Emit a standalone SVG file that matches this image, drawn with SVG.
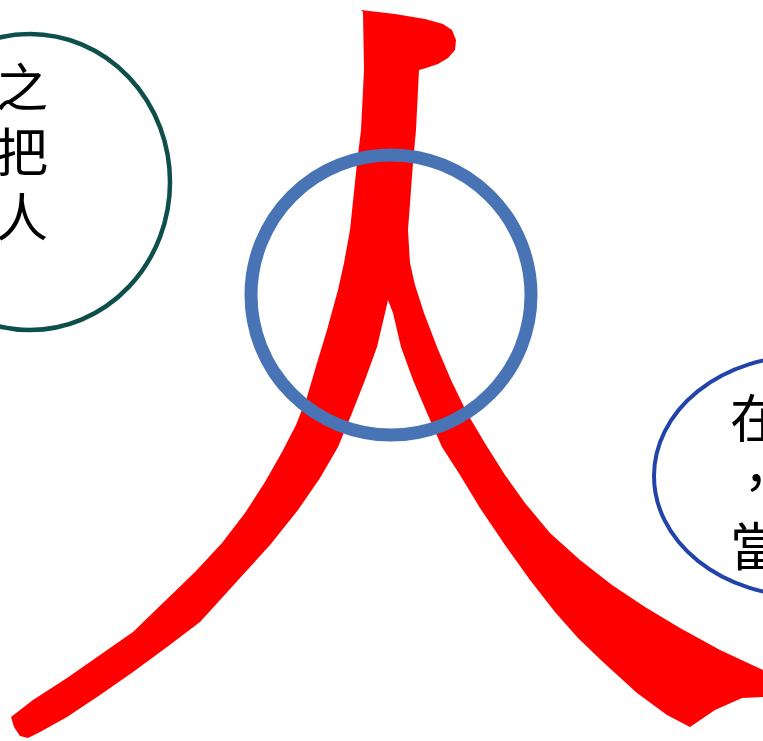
<svg xmlns="http://www.w3.org/2000/svg" width="763" height="741" viewBox="0 0 763 741">
<style>
.t{font-family:"Noto Sans CJK TC","Noto Sans CJK SC",sans-serif;font-size:52px;fill:#000}
</style>
<rect width="763" height="741" fill="#fff"/>
<g id="glyph">
<path fill="#ff0000" d="M361,10 L395,14 L425,19 L443,24 L452,30 L456,40 L455,50 L448,58 L438,64 L426,68 L419,70 L416,130 L413,163 L408,230 L410,263 L415,285 L424,313 L437,347 L451,380 L467,413 L486,445 L505,475 L525,503 L550,533 L580,560 L612,585 L645,607 L680,628 L720,650 L763,670 L763,697 L742,698 L715,710 L690,727 L667,715 L637,693 L603,662 L578,638 L555,612 L530,580 L505,545 L480,508 L460,475 L442,447 L427,413 L413,380 L401,347 L393,313 L388,300 L385,313 L377,347 L365,380 L352,413 L338,447 L320,478 L298,510 L270,545 L240,578 L200,622 L167,647 L133,672 L100,695 L67,717 L40,732 L28,738 L20,736 L14,727 L11,717 L33,700 L67,678 L100,655 L133,632 L165,601 L195,572 L222,543 L245,513 L265,482 L282,452 L296,425 L307,397 L317,363 L327,330 L338,290 L344,263 L350,230 L357,163 L361,130 L364,70 L363,12 Z"/>
</g>
<g id="ring">
<circle cx="391" cy="295" r="140" fill="none" stroke="#4874b5" stroke-width="13"/>
</g>
<g id="node-left">
<ellipse cx="30" cy="182" rx="140" ry="148" fill="none" stroke="#0d4f4b" stroke-width="4.5"/>
<text class="t" x="48" y="107" text-anchor="end">之</text>
<text class="t" x="48" y="172" text-anchor="end">把</text>
<text class="t" x="48" y="237" text-anchor="end">人</text>
</g>
<g id="node-right">
<ellipse cx="804" cy="476" rx="150" ry="120" fill="none" stroke="#2244aa" stroke-width="4"/>
<text class="t" x="730" y="438">在</text>
<text class="t" x="730" y="502">，</text>
<text class="t" x="730" y="566">當</text>
</g>
<g id="connectors"/>
</svg>
